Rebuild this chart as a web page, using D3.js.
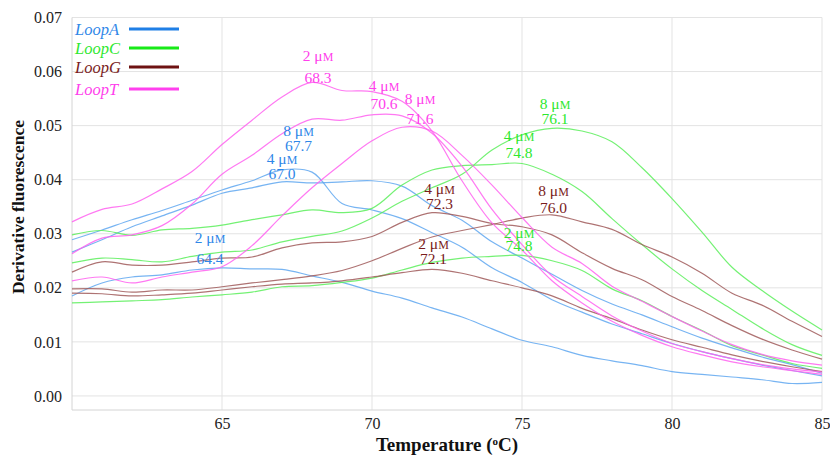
<!DOCTYPE html>
<html><head><meta charset="utf-8">
<script src="https://cdn.jsdelivr.net/npm/d3@7"></script>
<style>body{margin:0;background:#fff}</style>
</head><body><svg id="c" width="830" height="457"></svg>
<script>
// ---------- data ----------
const temps = [60,61,62,63,64,65,66,67,68,69,70,71,72,73,74,75,76,77,78,79,80,81,82,83,84,85];

const loopA_2 = [0.0185,0.0209,0.0220,0.0224,0.0233,0.0237,0.0235,0.0234,0.0222,0.0210,0.0194,0.0181,0.0163,0.0146,0.0124,0.0103,0.0091,0.0075,0.0065,0.0056,0.0045,0.0040,0.0035,0.0030,0.0023,0.0025];
const loopA_4 = [0.0266,0.0289,0.0313,0.0333,0.0353,0.0375,0.0385,0.0396,0.0394,0.0396,0.0398,0.0388,0.0352,0.0325,0.0285,0.0255,0.0225,0.0195,0.0170,0.0150,0.0128,0.0107,0.0089,0.0072,0.0058,0.0042];
const loopA_8 = [0.0289,0.0307,0.0326,0.0343,0.0362,0.0381,0.0398,0.0418,0.0414,0.0356,0.0344,0.0328,0.0302,0.0275,0.0237,0.0210,0.0178,0.0155,0.0133,0.0115,0.0097,0.0082,0.0069,0.0057,0.0047,0.0037];

const loopC_2 = [0.0172,0.0174,0.0176,0.0178,0.0183,0.0187,0.0192,0.0202,0.0204,0.0210,0.0218,0.0233,0.0247,0.0255,0.0258,0.0260,0.0250,0.0232,0.0198,0.0176,0.0147,0.0121,0.0093,0.0076,0.0060,0.0051];
const loopC_4 = [0.0298,0.0306,0.0297,0.0307,0.0310,0.0316,0.0326,0.0335,0.0344,0.0339,0.0347,0.0390,0.0418,0.0426,0.0428,0.0430,0.0410,0.0378,0.0328,0.0280,0.0235,0.0195,0.0160,0.0125,0.0095,0.0075];
const loopC_8 = [0.0246,0.0255,0.0252,0.0248,0.0258,0.0266,0.0270,0.0285,0.0295,0.0305,0.0329,0.0360,0.0385,0.0410,0.0455,0.0483,0.0495,0.0490,0.0470,0.0422,0.0365,0.0303,0.0238,0.0195,0.0157,0.0122];

const loopG_2 = [0.0190,0.0189,0.0185,0.0187,0.0190,0.0196,0.0202,0.0207,0.0209,0.0213,0.0220,0.0228,0.0234,0.0227,0.0213,0.0200,0.0185,0.0162,0.0143,0.0122,0.0104,0.0090,0.0076,0.0064,0.0054,0.0045];
const loopG_4 = [0.0229,0.0248,0.0242,0.0242,0.0248,0.0255,0.0257,0.0274,0.0283,0.0285,0.0295,0.0321,0.0339,0.0332,0.0319,0.0313,0.0298,0.0265,0.0236,0.0215,0.0184,0.0158,0.0130,0.0105,0.0085,0.0068];
const loopG_8 = [0.0198,0.0198,0.0192,0.0196,0.0196,0.0202,0.0209,0.0215,0.0222,0.0232,0.0250,0.0273,0.0294,0.0306,0.0317,0.0329,0.0335,0.0322,0.0308,0.0280,0.0257,0.0227,0.0190,0.0168,0.0138,0.0110];

const loopT_2 = [0.0322,0.0345,0.0355,0.0383,0.0415,0.0465,0.0510,0.0553,0.0580,0.0565,0.0563,0.0545,0.0490,0.0398,0.0320,0.0270,0.0213,0.0172,0.0138,0.0112,0.0091,0.0076,0.0063,0.0054,0.0047,0.0040];
const loopT_4 = [0.0263,0.0292,0.0298,0.0315,0.0355,0.0410,0.0445,0.0485,0.0512,0.0510,0.0520,0.0518,0.0486,0.0425,0.0345,0.0280,0.0222,0.0184,0.0148,0.0120,0.0097,0.0082,0.0069,0.0058,0.0050,0.0044];
const loopT_8 = [0.0213,0.0220,0.0209,0.0220,0.0229,0.0239,0.0278,0.0333,0.0385,0.0430,0.0472,0.0497,0.0490,0.0445,0.0390,0.0330,0.0275,0.0245,0.0203,0.0175,0.0147,0.0120,0.0095,0.0077,0.0065,0.0057];

const loops = ["LoopA","LoopC","LoopG","LoopT"];
const xTicks = [65,70,75,80,85];
const yTicks = [0.00,0.01,0.02,0.03,0.04,0.05,0.06,0.07];

// Tm annotations: loop, concentration (µM), Tm text, anchor (Tm, value for line 1 / line 2)
const tmLoop = ["LoopA","LoopA","LoopA","LoopT","LoopT","LoopT","LoopC","LoopC","LoopC","LoopG","LoopG","LoopG"];
const tmConc = ["2","4","8","2","4","8","8","4","2","4","8","2"];
const tmValue = ["64.4","67.0","67.7","68.3","70.6","71.6","76.1","74.8","74.8","72.3","76.0","72.1"];
const tmX = [64.6,67.0,67.55,68.2,70.4,71.6,76.1,74.9,74.9,72.25,76.05,72.05];
const tmY1 = [0.0283,0.0429,0.0481,0.0620,0.0564,0.0540,0.0531,0.0472,0.0292,0.0374,0.0370,0.0272];
const tmY2 = [0.0244,0.0401,0.0453,0.0579,0.0531,0.0503,0.0503,0.0440,0.0268,0.0346,0.0338,0.0244];

// ---------- build ----------
const seriesTable = [
  {loop:"LoopA", values:loopA_2},{loop:"LoopA", values:loopA_4},{loop:"LoopA", values:loopA_8},
  {loop:"LoopC", values:loopC_2},{loop:"LoopC", values:loopC_4},{loop:"LoopC", values:loopC_8},
  {loop:"LoopG", values:loopG_2},{loop:"LoopG", values:loopG_4},{loop:"LoopG", values:loopG_8},
  {loop:"LoopT", values:loopT_2},{loop:"LoopT", values:loopT_4},{loop:"LoopT", values:loopT_8}
];

const curveColor = {LoopA:"#5fa7f0", LoopC:"#5cee5c", LoopG:"#a05a5a", LoopT:"#ff62f0"};
const legendLine = {LoopA:"#1f7fe6", LoopC:"#18ea18", LoopG:"#6e1212", LoopT:"#ff40ee"};
const textColor  = {LoopA:"#2f87e8", LoopC:"#2ee82e", LoopG:"#7a1c1c", LoopT:"#ff40ec"};

const serif = "'Liberation Serif','Times New Roman',serif";
const svg = d3.select("#c");
const L = 72, R = 822, T = 17.5, B = 410;
const x = d3.scaleLinear().domain([60,85]).range([L,R]);
const y = d3.scaleLinear().domain([-0.0026,0.07]).range([B,T]);

// grid
svg.append("g").selectAll("line").data(yTicks).join("line")
  .attr("x1",L).attr("x2",R).attr("y1",d=>y(d)).attr("y2",d=>y(d))
  .attr("stroke","#e3e3e3").attr("stroke-width",1);
svg.append("g").selectAll("line").data(xTicks).join("line")
  .attr("x1",d=>x(d)).attr("x2",d=>x(d)).attr("y1",T).attr("y2",B)
  .attr("stroke","#e3e3e3").attr("stroke-width",1);
// axis frame
svg.append("line").attr("x1",L).attr("x2",L).attr("y1",T).attr("y2",B).attr("stroke","#d4d4d4");
svg.append("line").attr("x1",L).attr("x2",R).attr("y1",B).attr("y2",B).attr("stroke","#d4d4d4");

// axes (labels only)
const xAxis = svg.append("g").attr("transform",`translate(0,${B})`)
  .call(d3.axisBottom(x).tickValues(xTicks).tickSize(0).tickPadding(8).tickFormat(d3.format("d")));
const yAxis = svg.append("g").attr("transform",`translate(${L},0)`)
  .call(d3.axisLeft(y).tickValues(yTicks).tickSize(0).tickPadding(10).tickFormat(d3.format(".2f")));
[xAxis,yAxis].forEach(g=>{
  g.attr("font-family",serif);
  g.select(".domain").remove();
  g.selectAll("text").attr("font-family",serif).attr("font-size",16).attr("fill","#222");
});

// curves
const line = d3.line().x((d,i)=>x(temps[i])).y(d=>y(d)).curve(d3.curveCatmullRom.alpha(0.5));
svg.append("g").selectAll("path").data(seriesTable).join("path")
  .attr("d",d=>line(d.values))
  .attr("fill","none")
  .attr("stroke",d=>curveColor[d.loop])
  .attr("stroke-width",1.2)
  .attr("stroke-opacity",0.85);

// Tm labels
const lab = svg.append("g").attr("font-family",serif).attr("font-size",15.5).attr("text-anchor","middle");
tmLoop.forEach((lp,i)=>{
  const t1 = lab.append("text").attr("x",x(tmX[i])).attr("y",y(tmY1[i])).attr("fill",textColor[lp]);
  t1.append("tspan").text(tmConc[i]+" μ");
  t1.append("tspan").attr("font-size",12).text("M");
  lab.append("text").attr("x",x(tmX[i])).attr("y",y(tmY2[i])).attr("fill",textColor[lp]).text(tmValue[i]);
});

// legend
const lg = svg.append("g");
loops.forEach((lp,i)=>{
  const yy = [29,48,67,89][i];
  lg.append("text").attr("x",75).attr("y",yy+5.5).attr("font-family",serif).attr("font-style","italic")
    .attr("font-size",16.5).attr("fill",textColor[lp]).text(lp);
  lg.append("line").attr("x1",129).attr("x2",179).attr("y1",yy).attr("y2",yy)
    .attr("stroke",legendLine[lp]).attr("stroke-width",3);
});

// axis titles
svg.append("text").attr("x",(L+R)/2).attr("y",451).attr("text-anchor","middle")
  .attr("font-family",serif).attr("font-weight","bold").attr("font-size",19).attr("fill","#111")
  .html("Temperature (<tspan baseline-shift='super' font-size='11'>o</tspan>C)");
svg.append("text").attr("transform","translate(24,207) rotate(-90)").attr("text-anchor","middle")
  .attr("font-family",serif).attr("font-weight","bold").attr("font-size",17.5).attr("fill","#111")
  .text("Derivative fluorescence");
</script></body></html>
